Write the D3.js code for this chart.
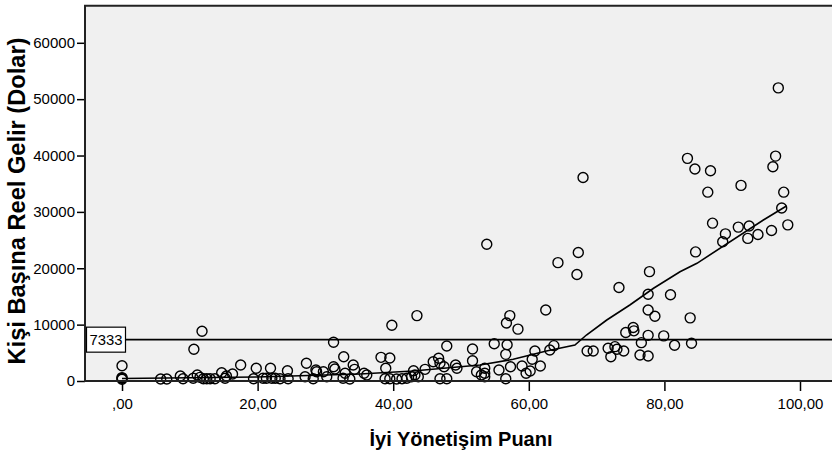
<!DOCTYPE html>
<html lang="tr">
<head>
    <meta charset="UTF-8">
    <title>İyi Yönetişim ve Gelir</title>
    <script src="https://d3js.org/d3.v7.min.js"></script>
    <style>
        body { margin: 0; background: #fff; }
        text { font-family: "Liberation Sans", Arial, sans-serif; fill: #000; }
    </style>
</head>
<body>
<svg width="832" height="453"></svg>

<script>
    // iyi yonetisim puani (x) ve kisi basina reel gelir (y)
    const puan = [96.8, 83.4, 84.5, 86.8, 96.4, 96.0, 68.0, 86.4, 91.3, 97.6,
        97.3, 87.1, 98.2, 90.9, 92.5, 95.8, 89.0, 93.8, 92.3, 88.6,
        84.6, 53.8, 67.3, 64.3, 67.1, 77.8, 73.3, 77.6, 80.9, 77.6,
        78.6, 83.8, 62.5, 57.2, 56.7, 58.4, 75.4, 74.3, 75.5, 77.6,
        79.9, 54.9, 56.8, 56.6, 63.7, 63.1, 60.9, 60.5, 61.7, 60.2,
        59.6, 59.0, 57.3, 55.6, 56.6, 53.5, 53.5, 53.5, 68.6, 69.5,
        71.7, 72.7, 73.0, 72.1, 74.0, 76.6, 76.4, 77.6, 81.5, 84.0,
        43.5, 39.8, 31.2, 47.9, 51.7, 32.7, 38.2, 39.5, 27.2, 51.7,
        38.9, 46.7, 45.9, 46.9, 47.5, 49.2, 49.4, 44.7, 43.0, 34.1,
        34.3, 31.2, 31.4, 28.6, 28.7, 29.7, 35.7, 36.1, 32.9, 27.0,
        28.2, 30.2, 32.6, 33.6, 38.8, 39.5, 40.5, 41.3, 42.0, 42.7,
        43.2, 43.7, 46.9, 47.9, 52.3, 53.0,
        11.8, 10.6, 0, 0, 0, 0, 5.7, 6.6, 8.6, 9.0,
        10.5, 11.1, 11.5, 12.0, 12.5, 13.0, 13.7, 14.7, 15.2, 15.4,
        16.3, 17.5, 19.4, 19.8, 20.8, 21.3, 21.9, 22.1, 22.6, 23.3,
        24.4, 24.5];
    const gelir = [52000, 39500, 37600, 37300, 39900, 38000, 36100, 33500, 34700, 33500,
        30700, 28000, 27700, 27300, 27500, 26700, 26100, 26000, 25300, 24700,
        22900, 24250, 22800, 21000, 18900, 19400, 16600, 15400, 15300, 12600,
        11500, 11200, 12600, 11600, 10300, 9200, 9500, 8600, 8900, 8100,
        8000, 6600, 6440, 4730, 6270, 5500, 5320, 3850, 2660, 1770,
        1370, 2660, 2540, 1950, 410, 2250, 1370, 760, 5320, 5320,
        5800, 6090, 5620, 4310, 5320, 6800, 4610, 4430, 6330, 6690,
        11600, 9880, 6870, 6210, 5680, 4310, 4200, 4080, 3140, 3600,
        2250, 4030, 3420, 3140, 2540, 2840, 2250, 2070, 1830, 2840,
        2070, 2540, 2130, 1950, 1650, 1650, 1370, 1060, 1370, 760,
        410, 760, 480, 350, 410, 410, 350, 410, 480, 760,
        1060, 760, 410, 410, 1650, 1060,
        8820, 5620, 2710, 480, 300, 600, 350, 350, 890, 410,
        480, 1060, 650, 410, 410, 410, 410, 1470, 480, 890,
        1240, 2840, 410, 2250, 480, 480, 2250, 480, 480, 410,
        1830, 410];

    // uyum (loess) egrisi
    const fitPuan = [0, 19.9, 35.1, 42.9, 52.8, 57.7, 62.6, 66.8, 68.5, 71.5, 74.9, 78.4, 82.3, 84.8, 94.6, 98.0];
    const fitGelir = [440, 710, 1240, 1770, 2840, 3850, 5320, 6390, 8160, 10820, 13480, 16450, 19390, 20880, 28560, 31050];

    const ortalama = 7333;

    const xTicks = [0, 20, 40, 60, 80, 100];
    const xTickLabels = [",00", "20,00", "40,00", "60,00", "80,00", "100,00"];
    const yTicks = [0, 10000, 20000, 30000, 40000, 50000, 60000];

    const svg = d3.select("svg");
    const pLeft = 85, pTop = 5.7, pRight = 832, pBottom = 381;

    const x = d3.scaleLinear().domain([-5.46, 104.72]).range([pLeft, pRight]);
    const y = d3.scaleLinear().domain([0, 66580]).range([pBottom, pTop]);

    // plot background
    svg.append("rect")
        .attr("x", pLeft).attr("y", pTop)
        .attr("width", pRight - pLeft).attr("height", pBottom - pTop)
        .attr("fill", "#f0f0f0");

    // reference line
    svg.append("line")
        .attr("x1", pLeft).attr("x2", pRight)
        .attr("y1", y(ortalama)).attr("y2", y(ortalama))
        .attr("stroke", "#000").attr("stroke-width", 1.6);

    // points
    svg.append("g").selectAll("circle")
        .data(puan)
        .enter()
        .append("circle")
        .attr("cx", d => x(d))
        .attr("cy", (d, i) => y(gelir[i]))
        .attr("r", 5)
        .attr("fill", "none")
        .attr("stroke", "#000")
        .attr("stroke-width", 1.4);

    // fit line
    const line = d3.line()
        .x(d => x(d))
        .y((d, i) => y(fitGelir[i]));
    svg.append("path")
        .attr("d", line(fitPuan))
        .attr("fill", "none")
        .attr("stroke", "#000")
        .attr("stroke-width", 1.6);

    // label box for the reference line
    svg.append("rect")
        .attr("x", 86.5).attr("y", y(ortalama) - 12.5)
        .attr("width", 39).attr("height", 25)
        .attr("fill", "#fff")
        .attr("stroke", "#000").attr("stroke-width", 1.2);
    svg.append("text")
        .attr("x", 106).attr("y", y(ortalama) + 5.5)
        .attr("text-anchor", "middle")
        .attr("font-size", 15)
        .attr("textLength", 33).attr("lengthAdjust", "spacingAndGlyphs")
        .text(ortalama);

    // axes
    const yAxis = svg.append("g")
        .attr("transform", `translate(${pLeft},0)`)
        .call(d3.axisLeft(y).tickValues(yTicks).tickSize(8).tickPadding(2).tickFormat(d => d));
    yAxis.select(".domain").remove();
    yAxis.selectAll("line").attr("stroke", "#000").attr("stroke-width", 1.5);
    yAxis.selectAll("text").attr("font-size", 15).attr("font-family", "Liberation Sans, Arial, sans-serif");

    const xAxis = svg.append("g")
        .attr("transform", `translate(0,${pBottom})`)
        .call(d3.axisBottom(x).tickValues(xTicks).tickSize(10).tickPadding(7)
            .tickFormat((d, i) => xTickLabels[i]));
    xAxis.select(".domain").remove();
    xAxis.selectAll("line").attr("stroke", "#000").attr("stroke-width", 1.5);
    xAxis.selectAll("text").attr("font-size", 15).attr("font-family", "Liberation Sans, Arial, sans-serif");

    // frame: left, top, bottom
    svg.append("path")
        .attr("d", `M${pRight},${pTop}H${pLeft}V${pBottom}H${pRight}`)
        .attr("fill", "none")
        .attr("stroke", "#222")
        .attr("stroke-width", 2);

    // axis titles
    svg.append("text")
        .attr("x", 461).attr("y", 446)
        .attr("text-anchor", "middle")
        .attr("font-size", 21).attr("font-weight", "bold")
        .attr("textLength", 183).attr("lengthAdjust", "spacingAndGlyphs")
        .text("İyi Yönetişim Puanı");

    svg.append("text")
        .attr("transform", "translate(25,201) rotate(-90)")
        .attr("text-anchor", "middle")
        .attr("font-size", 23).attr("font-weight", "bold")
        .attr("textLength", 327).attr("lengthAdjust", "spacingAndGlyphs")
        .text("Kişi Başına Reel Gelir (Dolar)");
</script>
</body>
</html>
